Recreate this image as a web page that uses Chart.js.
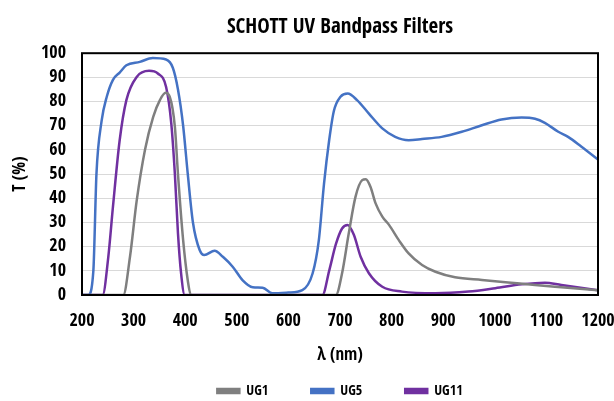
<!DOCTYPE html>
<html>
<head>
<meta charset="utf-8">
<script src="https://cdn.jsdelivr.net/npm/chart.js@4/dist/chart.umd.min.js"></script>
<style>
html,body{margin:0;padding:0;background:#fff;}
#wrap{width:614px;height:401px;}
</style>
</head>
<body>
<div id="wrap"><canvas id="c" width="614" height="401"></canvas></div>
<script>
const TITLE = "SCHOTT UV Bandpass Filters";
const X_TITLE = "λ (nm)";
const Y_TITLE = "T (%)";
const SERIES_NAMES = ["UG1", "UG5", "UG11"];

const ug1Wavelength = [200,280,293,306,322,338,351,362,370,380,386,396,405,411,500,600,692,704,717,730,743,750,759,769,782,795,814,833,859,885,923,975,1026,1078,1129,1200];
const ug1Transmission = [0,0,15.8,39,60,73.7,80.6,83.6,82,69.5,50,22.7,6,0,0,0,0,9,25.5,40.6,47.5,47.9,44.8,37.9,32.4,29,22.7,17.2,12.4,9.6,7.3,6.2,5.2,4.1,3.2,2];

const ug5Wavelength = [200,212,222,228,238,248,260,273,286,312,337,363,376,386,396,405,415,428,437,457,473,492,511,531,550,569,600,627,647,659,669,679,688,701,715,733,756,782,807,833,859,897,936,975,1013,1052,1078,1097,1123,1142,1168,1200];
const ug5Transmission = [0,0,10,50,72,82,89,92,95,96.4,98,97.4,94,85,70,50,30,18.6,16.5,18.3,15.8,11.7,6.2,3.2,3,0.7,1,2,9,22.7,46,64,76,82,83.3,80.6,75,68.9,65.4,64,64.5,65.4,67.5,70.2,72.6,73.4,72.9,71.2,67.5,65.4,61.3,56];

const ug11Wavelength = [200,240,251,260,273,286,306,330,347,363,373,380,386,392,399,500,600,666,679,692,704,715,727,740,756,782,820,885,949,1001,1052,1097,1129,1200];
const ug11Transmission = [0,0,15.8,36.5,64,80.6,90.2,92.7,91.6,86,71,50,25.5,9,0,0,0,0,10,21,27.5,29,24.8,15.8,9,3.4,1.4,0.7,1.4,2.8,4.4,5.1,4.1,2];

const COLORS = ["#7f7f7f", "#4472c4", "#7030a0"];
const FONT = "'Open Sans Condensed', 'Roboto Condensed', sans-serif";

function pts(xs, ys){ return xs.map((x,i)=>({x:x, y:ys[i]})); }

const seriesData = [
  pts(ug1Wavelength, ug1Transmission),
  pts(ug5Wavelength, ug5Transmission),
  pts(ug11Wavelength, ug11Transmission)
];

const borderPlugin = {
  id: 'plotBorder',
  afterDatasetsDraw(chart){
    const a = chart.chartArea, ctx = chart.ctx;
    ctx.save();
    ctx.strokeStyle = '#000';
    ctx.lineWidth = 2;
    ctx.strokeRect(a.left, a.top, a.right - a.left, a.bottom - a.top);
    ctx.restore();
  }
};

new Chart(document.getElementById('c'), {
  type: 'line',
  data: {
    datasets: SERIES_NAMES.map((n,i)=>({
      label: n,
      data: seriesData[i],
      borderColor: COLORS[i],
      backgroundColor: COLORS[i],
      borderWidth: 2.5,
      pointRadius: 0,
      cubicInterpolationMode: 'monotone',
      fill: false
    }))
  },
  options: {
    responsive: false,
    animation: false,
    layout: { padding: { left: 0, right: 0, top: 0, bottom: 0 } },
    plugins: {
      title: {
        display: true, text: TITLE, color: '#000', fullSize: false,
        font: { family: FONT, size: 21, weight: 'bold' },
        padding: { top: 15, bottom: 13 }
      },
      legend: {
        position: 'bottom', fullSize: false, maxHeight: 60,
        labels: {
          color: '#000', boxWidth: 22, boxHeight: 4, padding: 43,
          font: { family: FONT, size: 14, weight: 'bold' }
        }
      },
      tooltip: { enabled: false }
    },
    scales: {
      x: {
        type: 'linear', min: 200, max: 1200,
        grid: { display: false, drawTicks: false },
        border: { display: false },
        ticks: { stepSize: 100, color: '#000', padding: 15, maxRotation: 0,
          callback: v => String(v),
          font: { family: FONT, size: 18, weight: 'bold' } },
        title: { display: true, text: X_TITLE, color: '#000',
          font: { family: FONT, size: 17, weight: 'bold' }, padding: { top: 0, bottom: -25 } },
        afterFit(s){ s.height = 46; s.paddingRight = 16; s.paddingLeft = 0; }
      },
      y: {
        min: 0, max: 100,
        grid: { color: '#d9d9d9', lineWidth: 1, drawTicks: false },
        border: { display: false },
        ticks: { stepSize: 10, color: '#000', padding: 16, autoSkip: false,
          callback: v => String(v),
          font: { family: FONT, size: 18, weight: 'bold' } },
        title: { display: true, text: Y_TITLE, color: '#000',
          font: { family: FONT, size: 17, weight: 'bold' }, padding: { top: 10, bottom: 0 } },
        afterFit(s){ s.width = 82; }
      }
    }
  },
  plugins: [borderPlugin]
});
</script>
</body>
</html>
